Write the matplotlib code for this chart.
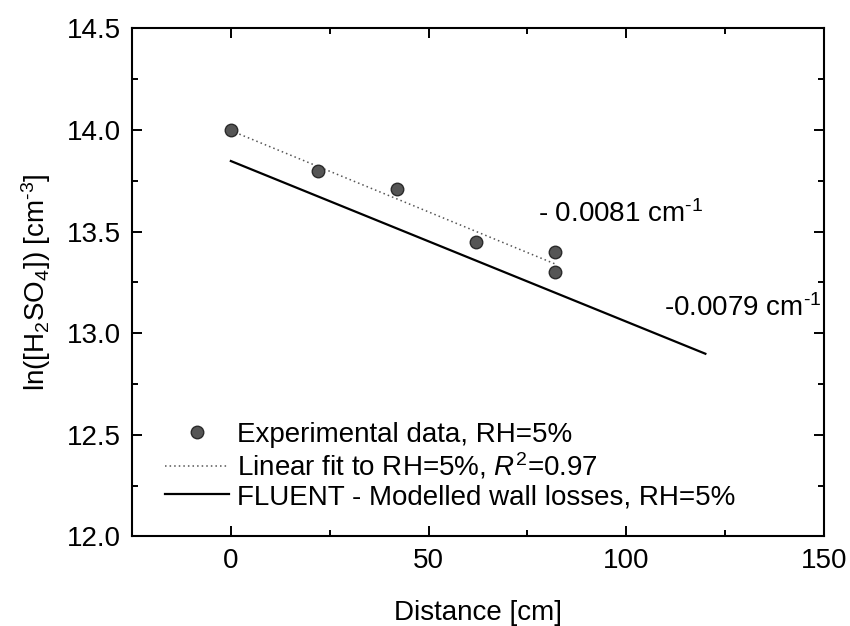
import numpy as np
import matplotlib
matplotlib.use("Agg")
import matplotlib.pyplot as plt

plt.rcParams['font.family'] = ['Liberation Sans', 'DejaVu Sans']
plt.rcParams['mathtext.fontset'] = 'custom'
plt.rcParams['mathtext.rm'] = 'Liberation Sans'
plt.rcParams['mathtext.it'] = 'Liberation Sans:italic'
plt.rcParams['mathtext.default'] = 'regular'

# experimental data, RH=5%
distance_cm = [0, 22, 42, 62, 82, 82]
ln_h2so4 = [14.0, 13.8, 13.71, 13.45, 13.40, 13.30]

# FLUENT modelled wall losses (end points)
fluent_x = [0, 120]
fluent_y = [13.847, 12.899]

slope_labels = ["- 0.0081 cm$^{\\text{-}1}$", "-0.0079 cm$^{\\text{-}1}$"]

fig = plt.figure(figsize=(8.5, 6.26), dpi=100)
ax = fig.add_axes([0.1553, 0.1430, 0.8141, 0.8118])

# linear fit to the measured points
coef = np.polyfit(distance_cm, ln_h2so4, 1)
fit_x = np.array([min(distance_cm), max(distance_cm)])
fit_y = np.polyval(coef, fit_x)

ax.plot(distance_cm, ln_h2so4, linestyle='none', marker='o', markersize=9,
        markerfacecolor='#555555', markeredgecolor='#2a2a2a', markeredgewidth=1,
        label='Experimental data, RH=5%', zorder=3)
ax.plot(fit_x, fit_y, linestyle=(0, (1, 2)), color='#555555', linewidth=1.1,
        label='Linear fit to RH=5%, $\\mathit{R}^2$=0.97')
ax.plot(fluent_x, fluent_y, color='black', linewidth=1.6,
        label='FLUENT - Modelled wall losses, RH=5%')

ax.text(77.7, 13.549, slope_labels[0], fontsize=20, ha='left', va='baseline')
ax.text(109.6, 13.086, slope_labels[1], fontsize=20, ha='left', va='baseline')

ax.set_xlim(-25, 150)
ax.set_ylim(12.0, 14.5)
ax.set_xticks([0, 50, 100, 150])
ax.set_xticks([25, 75, 125], minor=True)
ax.set_yticks([12.0, 12.5, 13.0, 13.5, 14.0, 14.5])
ax.set_yticks([12.25, 12.75, 13.25, 13.75, 14.25], minor=True)
ax.yaxis.set_major_formatter(matplotlib.ticker.FormatStrFormatter('%.1f'))

ax.tick_params(which='both', direction='in', top=True, right=True,
               width=1.4, labelsize=20, pad=8)
ax.tick_params(which='major', length=7)
ax.tick_params(which='minor', length=4)
for sp in ax.spines.values():
    sp.set_linewidth(1.5)

ax.set_xlabel('Distance [cm]', fontsize=20, labelpad=19)
ax.set_ylabel('ln([H$_2$SO$_4$]) [cm$^{\\text{-}3}$]', fontsize=20, labelpad=10)

ax.legend(loc='lower left', bbox_to_anchor=(0.032, 0.03), frameon=False,
          fontsize=20, handlelength=2.3, handletextpad=0.3, labelspacing=0.1,
          borderaxespad=0)

fig.savefig('out.png', dpi=100)
